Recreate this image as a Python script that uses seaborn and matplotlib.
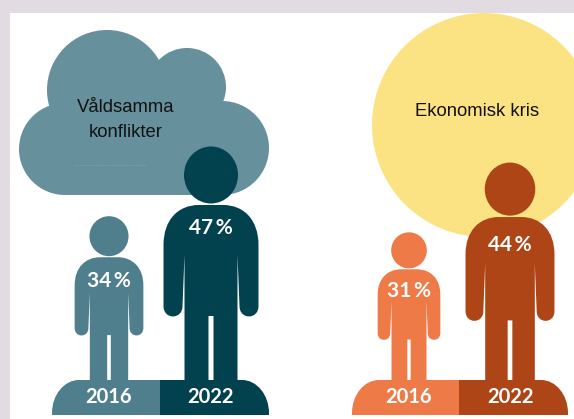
import numpy as np
import pandas as pd
import seaborn as sns
import matplotlib
matplotlib.use("Agg")
import matplotlib.pyplot as plt
from matplotlib.path import Path
from matplotlib.patches import PathPatch, Circle, Ellipse, Rectangle

# --- data ---
themes = ["Våldsamma\nkonflikter", "Våldsamma\nkonflikter", "Ekonomisk kris", "Ekonomisk kris"]
years = ["2016", "2022", "2016", "2022"]
shares = [34, 47, 31, 44]

df = pd.DataFrame({"theme": themes, "year": years, "share": shares})

# --- style ---
PAGE = "#e3dbe2"
colors = ["#4f7f8c", "#01424e", "#ee7a47", "#ad4516"]
centers = [109, 211, 409, 510]
label_y = [281, 228, 291, 245]
seams = [160, 160, 459, 459]
outer = [52, 269, 352, 568]
CLOUD = "#66909c"
SUN = "#fbe384"
FEET, BASE = 380, 415

sns.set_theme(style="white")
plt.rcParams["font.family"] = ["Liberation Sans", "DejaVu Sans"]

fig = plt.figure(figsize=(5.74, 4.19), dpi=100, facecolor=PAGE)
ax = fig.add_axes([0, 0, 1, 1])
ax.set_xlim(0, 574)
ax.set_ylim(419, 0)
ax.axis("off")
sns.despine(ax=ax, left=True, bottom=True)

ax.add_patch(Rectangle((10, 13), 564, 406, fc="white", ec="none", zorder=0))

# cloud and sun
for (cx, cy, r) in [(107, 90, 60), (187, 87, 39), (222, 148, 47), (65, 149, 46)]:
    ax.add_patch(Circle((cx, cy), r, fc=CLOUD, ec="none", zorder=1))
ax.add_patch(Rectangle((65, 100), 157, 95, fc=CLOUD, ec="none", zorder=1))
ax.plot([75, 146], [165, 165], ls=":", lw=0.6, color="#8fa9b0", zorder=2)
ax.add_patch(Circle((484, 125), 112, fc=SUN, ec="none", zorder=1))

M, L, C, Z = Path.MOVETO, Path.LINETO, Path.CURVE4, Path.CLOSEPOLY
half = [
    (L, (2.5, 64)), (L, (2.5, 0)), (L, (26.5, 0)), (L, (26.5, 125)), (L, (28.5, 74)),
    (C, (28.5, 60)), (C, (47.5, 60)), (C, (47.5, 74)),
    (L, (47.5, 135)),
    (C, (47.5, 160)), (C, (33, 175)), (C, (12, 175)),
    (L, (0, 175)),
]


def person(center, share, color):
    sx = share / 47
    sy = (5.375 * share - 18.6) / 234
    codes, pts = [M], [(0, 64)]
    for c, p in half:
        codes.append(c)
        pts.append(p)
    # mirror down the left side; a segment's code belongs to its far end
    for i in range(len(half) - 1, 0, -1):
        codes.append(half[i][0])
        pts.append((-half[i - 1][1][0], half[i - 1][1][1]))
    codes += [L, Z]
    pts += [(0, 64), (0, 64)]
    verts = [(center + x * sx, FEET - y * sy) for x, y in pts]
    ax.add_patch(PathPatch(Path(verts, codes), fc=color, ec="none", zorder=3))
    ax.add_patch(Ellipse((center, FEET - 205 * sy), 54 * sx, 57 * sy, fc=color, ec="none", zorder=3))


def plinth(seam, edge, color):
    s = np.sign(edge - seam)
    verts = [(seam, FEET), (edge - s * 27, FEET), (edge - s * 12, FEET),
             (edge, FEET + 15), (edge, BASE - 2), (edge, BASE), (seam, BASE), (seam, FEET)]
    codes = [M, L, C, C, C, L, L, Z]
    ax.add_patch(PathPatch(Path(verts, codes), fc=color, ec="none", zorder=3))


for _, row in df.iterrows():
    i = row.name
    person(centers[i], row.share, colors[i])
    plinth(seams[i], outer[i], colors[i])
    ax.text(centers[i], label_y[i], f"{row.share}\u2009%", color="white", family=["Lato", "DejaVu Sans"],
            weight="bold", fontsize=15, ha="center", va="center", zorder=5)
    ax.text(centers[i], 397, row.year, color="white", family="Lato",
            weight="bold", fontsize=14.5, ha="center", va="center", zorder=5)

ax.text(126, 120, df.theme[0], fontsize=13.3, color="#111111", ha="center", va="center",
        linespacing=1.6, zorder=5)
ax.text(477, 111, df.theme[2], fontsize=13.3, color="#111111", ha="center", va="center", zorder=5)

fig.savefig("out.png", dpi=100, facecolor=PAGE)
